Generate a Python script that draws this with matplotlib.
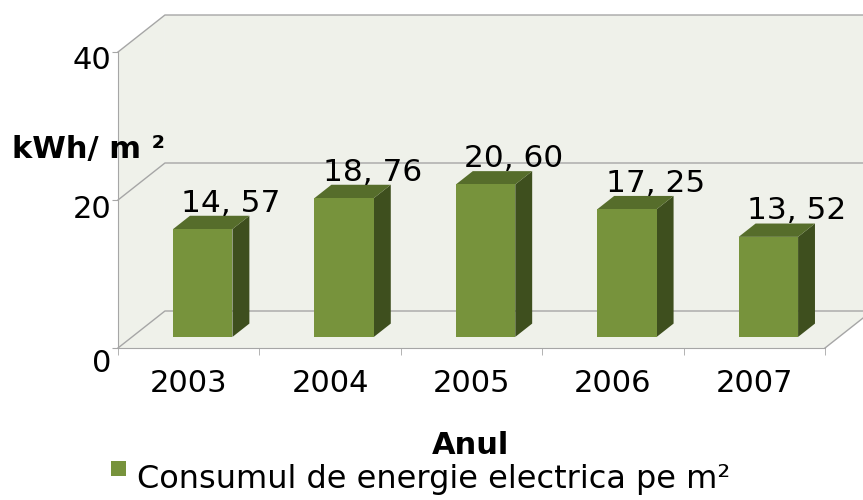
import numpy as np
import matplotlib
matplotlib.use("Agg")
import matplotlib.pyplot as plt
import matplotlib.transforms as mtransforms
from matplotlib.patches import Polygon, Rectangle

# Data
years = ["2003", "2004", "2005", "2006", "2007"]
consumption = [14.57, 18.76, 20.60, 17.25, 13.52]
y_ticks = [0, 20, 40]
y_label = "kWh/ m ²"
x_label = "Anul"
series_name = "Consumul de energie electrica pe m²"

# Colours and pseudo-3D geometry (in data units)
FRONT = "#77933C"
SIDE = "#3E4F1E"
TOP = "#566D2B"
WALL = "#EFF1EA"
GRID = "#A6A6A6"
DEPTH_X = 0.332     # depth shift along category axis
DEPTH_Y = 5.0       # depth shift along value axis
T_FRONT = 0.30      # bar front plane (fraction of depth)
T_BACK = 0.66       # bar back plane
BAR_W = 0.42

plt.rcParams['font.family'] = ['DejaVu Sans']

fig = plt.figure(figsize=(8.63, 5.0), dpi=100)
ax = fig.add_axes([118 / 863, 152 / 500, 707 / 863, 296 / 500])
ax.set_xlim(-0.5, len(years) - 0.5)
ax.set_ylim(0, 40)

x0, x1 = -0.5, len(years) - 0.5
ymax = 40

# walls and floor
side_wall = Polygon([(x0, 0), (x0, ymax), (x0 + DEPTH_X, ymax + DEPTH_Y), (x0 + DEPTH_X, DEPTH_Y)],
                    closed=True, facecolor=WALL, edgecolor="none", clip_on=False, zorder=0)
back_wall = Polygon([(x0 + DEPTH_X, DEPTH_Y), (x0 + DEPTH_X, ymax + DEPTH_Y),
                     (x1 + DEPTH_X, ymax + DEPTH_Y), (x1 + DEPTH_X, DEPTH_Y)],
                    closed=True, facecolor=WALL, edgecolor="none", clip_on=False, zorder=0)
floor = Polygon([(x0, 0), (x1, 0), (x1 + DEPTH_X, DEPTH_Y), (x0 + DEPTH_X, DEPTH_Y)],
                closed=True, facecolor=WALL, edgecolor="none", clip_on=False, zorder=0)
for p in (side_wall, back_wall, floor):
    ax.add_patch(p)

# gridlines running across side and back wall
for yv in y_ticks:
    ax.plot([x0, x0 + DEPTH_X, x1 + DEPTH_X], [yv, yv + DEPTH_Y, yv + DEPTH_Y],
            color=GRID, lw=1, clip_on=False, zorder=1)
# right edge of the floor
ax.plot([x1, x1 + DEPTH_X], [0, DEPTH_Y], color=GRID, lw=1, clip_on=False, zorder=1)

# bars
ddx = (T_BACK - T_FRONT) * DEPTH_X
for i, v in enumerate(consumption):
    cx = i + T_FRONT * DEPTH_X
    xl, xr = cx - BAR_W / 2, cx + BAR_W / 2
    yb = T_FRONT * DEPTH_Y
    yt = v + T_FRONT * DEPTH_Y
    yt_back = v + T_BACK * DEPTH_Y
    yb_back = T_BACK * DEPTH_Y
    ax.add_patch(Polygon([(xr, yb), (xr, yt), (xr + ddx, yt_back), (xr + ddx, yb_back)],
                         closed=True, facecolor=SIDE, edgecolor="none", clip_on=False, zorder=3))
    ax.add_patch(Polygon([(xl, yt), (xr, yt), (xr + ddx, yt_back), (xl + ddx, yt_back)],
                         closed=True, facecolor=TOP, edgecolor="none", clip_on=False, zorder=3))
    ax.add_patch(Rectangle((xl, yb), BAR_W, v, facecolor=FRONT, edgecolor="none",
                           clip_on=False, zorder=4))
    label = f"{v:.2f}".replace(".", ", ")
    ax.annotate(label, (cx + 0.2, yt_back), xytext=(0, 3), textcoords="offset points",
                ha="center", va="baseline", fontsize=22.5, color="black", zorder=6)

# axes styling
for s in ("top", "right"):
    ax.spines[s].set_visible(False)
ax.spines["left"].set_color(GRID)
ax.spines["bottom"].set_color(GRID)
ax.set_facecolor("none")

ax.set_yticks(y_ticks)
ax.set_yticklabels([str(t) for t in y_ticks], fontsize=22)
ax.tick_params(axis="y", length=4, color=GRID, pad=1)
# the value labels sit a little below their gridlines
for lab, shift in zip(ax.get_yticklabels(), [13, 6, 5]):
    lab.set_transform(lab.get_transform() +
                      mtransforms.ScaledTranslation(0, -shift / 100, fig.dpi_scale_trans))

ax.set_xticks(range(len(years)))
ax.set_xticklabels(years, fontsize=22)
ax.set_xticks(np.arange(-0.5, len(years)), minor=True)
ax.tick_params(axis="x", which="major", length=0, pad=15)
ax.tick_params(axis="x", which="minor", length=5, color=GRID)

# axis titles
fig.text(12 / 863, 1 - 158 / 500, y_label, fontsize=22, fontweight="bold",
         ha="left", va="baseline")
fig.text(471 / 863, 1 - 454 / 500, x_label, fontsize=22, fontweight="bold",
         ha="center", va="baseline")

# legend
fig.patches.append(Rectangle((111 / 863, 1 - 476 / 500), 15 / 863, 15 / 500,
                             transform=fig.transFigure, facecolor=FRONT, edgecolor="none"))
fig.text(137 / 863, 1 - 488 / 500, series_name, fontsize=23, ha="left", va="baseline")

fig.savefig("out.png", dpi=100)
